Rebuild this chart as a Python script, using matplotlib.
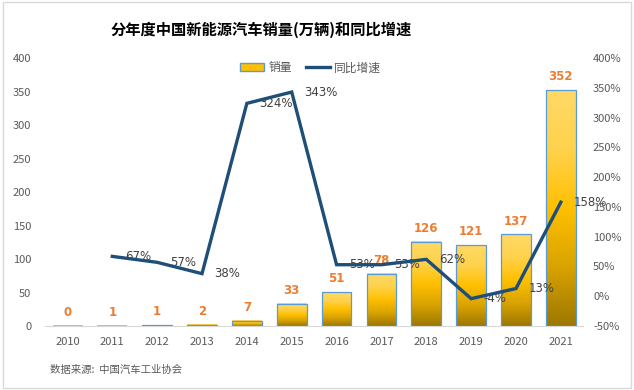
import numpy as np
import matplotlib
matplotlib.use("Agg")
import matplotlib.pyplot as plt
from matplotlib.colors import LinearSegmentedColormap
from matplotlib.patches import Rectangle
from matplotlib.lines import Line2D

plt.rcParams['font.family'] = ['Noto Sans CJK SC', 'DejaVu Sans']

years = ['2010', '2011', '2012', '2013', '2014', '2015',
         '2016', '2017', '2018', '2019', '2020', '2021']
sales = [0.5, 0.8, 1.3, 1.8, 7.5, 33.1, 50.7, 77.7, 125.6, 120.6, 136.7, 352.1]
sales_labels = ['0', '1', '1', '2', '7', '33', '51', '78', '126', '121', '137', '352']
growth = [np.nan, 0.67, 0.57, 0.38, 3.24, 3.43, 0.53, 0.53, 0.62, -0.04, 0.13, 1.58]

bar_cmap = LinearSegmentedColormap.from_list(
    'gold', ['#9C7700', '#D9A300', '#FFC000', '#FFD24D', '#FFD966'])
line_color = '#1F4E79'
tick_color = '#595959'

fig = plt.figure(figsize=(6.34, 3.9), dpi=100)
ax = fig.add_axes([0.071, 0.164, 0.849, 0.687])
ax2 = ax.twinx()

x = np.arange(len(years))
w = 0.66
grad = np.linspace(0, 1, 256).reshape(-1, 1)
for xi, h in zip(x, sales):
    # gradient fill per bar, then a thin blue outline
    ax.imshow(grad, cmap=bar_cmap, origin='lower', aspect='auto',
              extent=[xi - w / 2, xi + w / 2, 0, h], zorder=2)
    ax.add_patch(Rectangle((xi - w / 2, 0), w, h, fill=False,
                           edgecolor='#5B9BD5', linewidth=0.9, zorder=3))
    ax.annotate(sales_labels[xi], (xi, h), xytext=(0, 5), textcoords='offset points',
                ha='center', va='bottom', color='#ED7D31', fontsize=8.5,
                fontweight='bold', family='DejaVu Sans')

ax.set_xlim(-0.5, len(years) - 0.5)
ax.set_ylim(0, 400)
ax.set_yticks(np.arange(0, 401, 50))
ax.set_xticks(x)
ax.set_xticklabels(years)

ax2.plot(x, growth, color=line_color, linewidth=2.4, zorder=5, solid_joinstyle='miter')
ax2.set_ylim(-0.5, 4.0)
ax2.set_yticks(np.arange(-0.5, 4.01, 0.5))
ax2.set_yticklabels([f'{int(round(v * 100))}%' for v in np.arange(-0.5, 4.01, 0.5)])
for xi, g in zip(x, growth):
    if np.isnan(g):
        continue
    ax2.annotate(f'{int(round(g * 100))}%', (xi, g), xytext=(9, 0),
                 textcoords='offset points', ha='left', va='center',
                 color='#404040', fontsize=8.5, family='DejaVu Sans')

for a in (ax, ax2):
    for s in a.spines.values():
        s.set_visible(False)
    a.tick_params(length=0, colors=tick_color, labelsize=8)
ax.spines['bottom'].set_visible(True)
ax.spines['bottom'].set_color('#D9D9D9')
ax.tick_params(axis='y', pad=10)
ax.tick_params(axis='x', pad=8)
ax2.tick_params(axis='y', pad=7)

handles = [Rectangle((0, 0), 1, 1, facecolor='#FFC000', edgecolor='#5B9BD5'),
           Line2D([0], [0], color=line_color, linewidth=2.4)]
fig.legend(handles, ['销量', '同比增速'], loc='center', bbox_to_anchor=(0.49, 0.826),
           ncol=2, frameon=False, fontsize=8.5, labelcolor=tick_color,
           handlelength=2.0, handletextpad=0.4, columnspacing=1.2)

fig.text(0.412, 0.923, '分年度中国新能源汽车销量(万辆)和同比增速', ha='center', va='center',
         fontsize=11, fontweight='bold', color='black')
fig.text(0.079, 0.051, '数据来源:  中国汽车工业协会', ha='left', va='center',
         fontsize=7.5, color=tick_color)

fig.patches.append(Rectangle((0.004, 0.006), 0.992, 0.988, transform=fig.transFigure,
                             fill=False, edgecolor='#D9D9D9', linewidth=1))

fig.savefig('out.png', dpi=100)
